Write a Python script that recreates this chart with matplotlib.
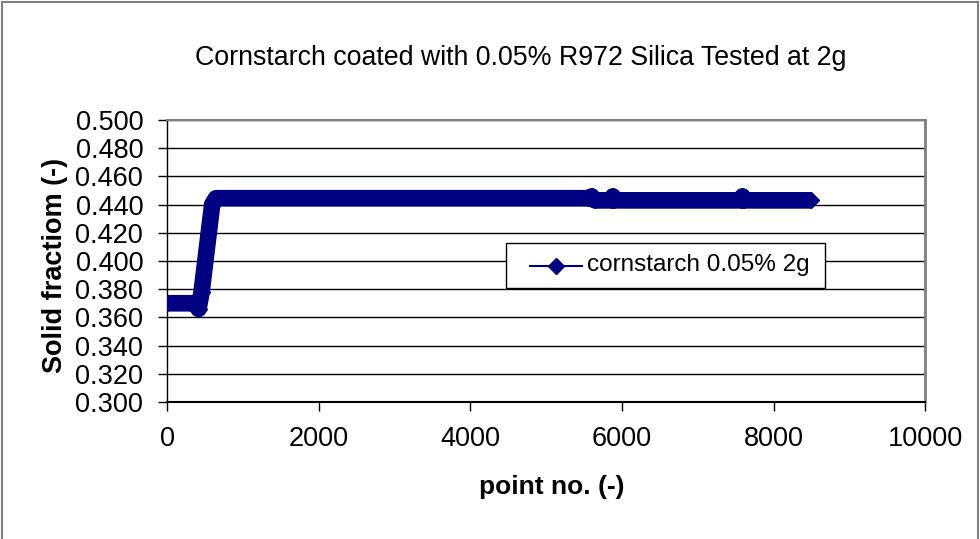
import matplotlib
matplotlib.use("Agg")
import matplotlib.pyplot as plt
from matplotlib.lines import Line2D
from matplotlib.patches import Rectangle

plt.rcParams["font.family"] = ["Liberation Sans", "DejaVu Sans"]

# 데이터
point_no = [0, 370, 410, 450, 590, 640, 5550, 5600, 5640, 5860, 5880, 5900,
            7570, 7590, 7610, 8500]
solid_fraction = [0.370, 0.370, 0.366, 0.378, 0.440, 0.4445, 0.4445, 0.4458,
                  0.4430, 0.4430, 0.4458, 0.4430, 0.4430, 0.4458, 0.4430, 0.4430]
series_label = "cornstarch 0.05% 2g"
title = "Cornstarch coated with 0.05% R972 Silica Tested at 2g"
y_ticks = [0.300, 0.320, 0.340, 0.360, 0.380, 0.400, 0.420, 0.440, 0.460, 0.480, 0.500]
x_ticks = [0, 2000, 4000, 6000, 8000, 10000]

navy = "#000080"
W, H = 980, 539

fig = plt.figure(figsize=(9.8, 5.39), dpi=100)
ax = fig.add_axes([0.1709, 0.2542, 0.7730, 0.5232])

ax.plot(point_no, solid_fraction, color=navy, lw=12, marker="D", markersize=8,
        solid_joinstyle="round", solid_capstyle="butt", zorder=3)

ax.set_xlim(0, 10000)
ax.set_ylim(0.300, 0.500)
ax.set_xticks(x_ticks)
ax.set_yticks(y_ticks)
ax.set_yticklabels([f"{v:.3f}" for v in y_ticks])
ax.tick_params(axis="y", labelsize=19.5, length=6.5, width=1, pad=11, direction="out")
ax.tick_params(axis="x", labelsize=19.5, length=6.5, width=1, pad=11, direction="out")
ax.grid(axis="y", color="black", lw=1, zorder=0)
ax.set_axisbelow(True)

for side in ["left", "bottom"]:
    ax.spines[side].set_color("black")
    ax.spines[side].set_linewidth(1)
ax.spines["bottom"].set_linewidth(1.5)
ax.spines["top"].set_color("#808080")
ax.spines["top"].set_linewidth(1.5)
ax.spines["right"].set_color("#808080")
ax.spines["right"].set_linewidth(2)

fig.text(0.531, 0.893, title, fontsize=19.3, ha="center", va="center")
fig.text(0.056, 0.508, "Solid fractiom (-)", fontsize=19.5, fontweight="bold",
         rotation=90, ha="center", va="center")
fig.text(0.563, 0.0965, "point no. (-)", fontsize=19, fontweight="bold",
         ha="center", va="center")

# 범례 (수동 배치)
fig.patches.append(Rectangle((506 / W, 1 - 288 / H), 319 / W, 45 / H,
                             transform=fig.transFigure, facecolor="white",
                             edgecolor="black", lw=1, zorder=5))
fig.lines.append(Line2D([530 / W, 582 / W], [1 - 265.5 / H] * 2,
                        transform=fig.transFigure, color=navy, lw=1.5, zorder=6))
fig.lines.append(Line2D([556 / W], [1 - 265.5 / H], transform=fig.transFigure,
                        color=navy, marker="D", markersize=8, zorder=6))
fig.text(587 / W, 1 - 265.5 / H, series_label, fontsize=17.5, ha="left",
         va="center", zorder=7)

fig.patches.append(Rectangle((0.002, -0.05), 0.996, 1.047, transform=fig.transFigure,
                             fill=False, edgecolor="#808080", lw=1.5))

plt.savefig("out.png", dpi=100)
